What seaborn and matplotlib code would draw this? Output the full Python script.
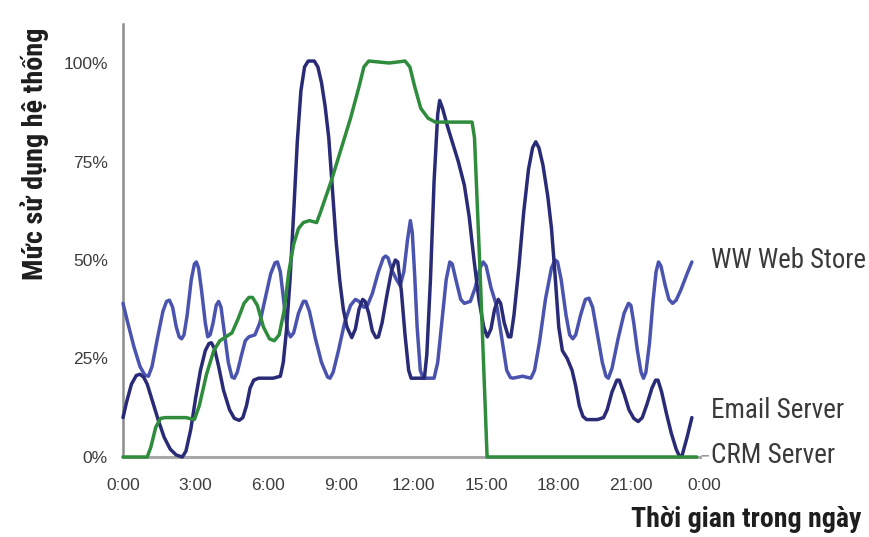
import pandas as pd
import matplotlib
matplotlib.use('Agg')
import matplotlib.pyplot as plt
import matplotlib.font_manager as fm
import seaborn as sns

# --- Dữ liệu (giờ trong ngày, % sử dụng) ---
web_gio = [0.0, 0.2, 0.45, 0.7, 0.9, 1.05, 1.2, 1.45, 1.65, 1.8, 1.92, 2.05, 2.2, 2.32, 2.42,
           2.52, 2.65, 2.82, 2.95, 3.03, 3.12, 3.25, 3.4, 3.5, 3.6, 3.72, 3.85, 3.95, 4.05,
           4.2, 4.35, 4.5, 4.6, 4.72, 4.9, 5.05, 5.2, 5.45, 5.65, 5.9, 6.1, 6.28, 6.38, 6.5,
           6.65, 6.8, 6.92, 7.05, 7.25, 7.45, 7.55, 7.7, 7.95, 8.2, 8.45, 8.55, 8.68, 8.9,
           9.15, 9.4, 9.6, 9.75, 9.95, 10.1, 10.3, 10.55, 10.75, 10.85, 10.95, 11.1, 11.3,
           11.45, 11.6, 11.75, 11.87, 11.95, 12.05, 12.15, 12.28, 12.4, 12.85, 13.0, 13.15,
           13.35, 13.5, 13.6, 13.75, 13.95, 14.1, 14.35, 14.55, 14.75, 14.88, 15.0, 15.2,
           15.45, 15.65, 15.85, 16.0, 16.1, 16.5, 16.85, 17.0, 17.2, 17.45, 17.7, 17.85,
           17.95, 18.1, 18.3, 18.45, 18.58, 18.7, 18.9, 19.1, 19.25, 19.4, 19.6, 19.8, 19.95,
           20.05, 20.2, 20.45, 20.7, 20.88, 20.98, 21.1, 21.25, 21.4, 21.5, 21.6, 21.75, 21.9,
           22.02, 22.12, 22.22, 22.4, 22.55, 22.7, 22.85, 23.05, 23.3, 23.5]
web_pct = [39, 34, 28, 23, 20.8, 20.5, 23, 31, 37, 39.5, 39.8, 38, 33, 30.5, 30,
           31, 36, 45, 49, 49.5, 48, 42, 34, 30.5, 31, 34, 38.5, 39.5, 38,
           31, 24, 20.3, 20, 21.5, 26, 29.5, 30.5, 31, 34, 41, 46.5, 49.3, 49.5, 47,
           39, 32, 30.5, 31.5, 36.5, 39.5, 39.5, 37, 30, 24, 20.3, 20, 21.5, 27,
           34, 38.5, 40, 39.5, 38, 38.5, 41.5, 47, 50.5, 51, 50.5, 47.5, 45,
           43.5, 47, 55, 60, 57, 46, 33, 22, 20, 20, 24, 33,
           45, 49.5, 49, 45, 40, 39, 39.5, 43, 48, 49.5, 48.5, 43,
           38, 30, 22, 20.2, 20, 20.5, 20, 22, 29, 40, 48, 50,
           49.5, 45, 36, 31, 30, 31, 36, 40, 40.3, 38, 31, 24, 20.5,
           20, 22.5, 30, 36.5, 39, 38.5, 34, 27, 21.5, 20, 21.5, 29, 40,
           47, 49.5, 48.5, 43.5, 40, 39, 39.8, 42.5, 46.5, 49.5]

email_gio = [0.0, 0.15, 0.35, 0.55, 0.7, 0.85, 1.0, 1.2, 1.45, 1.7, 1.95, 2.2, 2.45, 2.6, 2.8,
             3.0, 3.2, 3.4, 3.55, 3.65, 3.78, 3.95, 4.15, 4.4, 4.6, 4.8, 4.95, 5.1, 5.25, 5.4,
             5.6, 6.2, 6.5, 6.62, 6.75, 6.9, 7.05, 7.2, 7.35, 7.5, 7.65, 7.9, 8.05, 8.2, 8.35,
             8.5, 8.65, 8.8, 8.95, 9.1, 9.25, 9.45, 9.6, 9.75, 9.9, 10.0, 10.15, 10.3, 10.45,
             10.55, 10.7, 10.9, 11.1, 11.25, 11.35, 11.5, 11.65, 11.8, 11.9, 12.45, 12.55,
             12.7, 12.85, 13.0, 13.08, 13.2, 13.4, 13.6, 13.85, 14.1, 14.3, 14.5, 14.7, 14.9,
             15.05, 15.2, 15.35, 15.5, 15.6, 15.75, 15.92, 16.02, 16.15, 16.35, 16.55, 16.75,
             16.92, 17.05, 17.18, 17.35, 17.55, 17.7, 17.85, 18.0, 18.15, 18.35, 18.55, 18.7,
             18.85, 19.0, 19.15, 19.6, 19.85, 20.0, 20.2, 20.4, 20.5, 20.7, 20.9, 21.1, 21.28,
             21.45, 21.65, 21.85, 22.0, 22.1, 22.25, 22.45, 22.65, 22.85, 23.0, 23.1, 23.3, 23.5]
email_pct = [10, 14, 18.5, 20.7, 21, 20.3, 18.5, 14.5, 9.5, 5, 2, 0.5, 0, 1.5, 7,
             15, 22, 27, 28.8, 29, 27.5, 23, 17, 12, 9.8, 9.3, 10, 13, 17.5, 19.5,
             20, 20, 20.5, 24, 32, 45, 62, 80, 93, 99, 100.5, 100.5, 99, 95, 89,
             81, 68, 55, 45, 37.5, 33, 30.3, 32.5, 37.5, 40, 39.5, 36.5, 32, 30.3,
             30.5, 34, 41, 47.5, 50, 49.5, 42, 31, 22, 20, 20, 26,
             45, 70, 87, 90.5, 88.5, 84, 80, 75, 69, 61, 50, 40, 33,
             30.5, 32.5, 37.5, 40, 39, 34, 30.5, 30.5, 36, 48, 62, 73,
             78.5, 80, 78.5, 74, 66, 58, 46, 33, 27, 25, 22, 18,
             13, 10.3, 9.5, 9.5, 10, 12, 16.5, 19.5, 19.5, 16, 12, 9.8, 9,
             10, 13.5, 17.5, 19.5, 19.5, 16.5, 11, 6, 2, 0, 0.5, 5, 10]

crm_gio = [0.0, 1.0, 1.15, 1.35, 1.55, 1.75, 2.6, 2.95, 3.15, 3.45, 3.75, 4.0, 4.25, 4.5, 4.75,
           5.0, 5.2, 5.35, 5.55, 5.8, 6.05, 6.25, 6.45, 6.65, 6.85, 7.05, 7.25, 7.45, 7.7, 8.0,
           8.15, 8.6, 9.0, 9.4, 9.75, 9.95, 10.15, 11.0, 11.65, 11.85, 12.05, 12.3, 12.6,
           12.9, 13.5, 14.25, 14.42, 14.52, 14.75, 15.04, 15.5, 23.7]
crm_pct = [0, 0, 2.5, 7.5, 9.8, 10, 10, 9.5, 13, 21, 27, 29.5, 30.5, 31.5, 35,
           39, 40.5, 40.5, 38.5, 33, 30, 29.5, 31, 37, 47, 54, 58, 59.5, 60, 59.5,
           62, 70, 78, 86, 94, 99, 100.5, 100, 100.5, 99, 94, 88.5, 86,
           85, 85, 85, 85, 81, 47, 0, 0, 0]

moc_gio = [0, 3, 6, 9, 12, 15, 18, 21, 24]
nhan_gio = ['0:00', '3:00', '6:00', '9:00', '12:00', '15:00', '18:00', '21:00', '0:00']
moc_pct = [0, 25, 50, 75, 100]
nhan_pct = ['0%', '25%', '50%', '75%', '100%']

ten_chuoi = ['WW Web Store', 'Email Server', 'CRM Server']
mau = {'WW Web Store': '#4a54ae', 'Email Server': '#2a2b76', 'CRM Server': '#2f8c3c'}

df_web = pd.DataFrame({'Gio': web_gio, 'Pct': web_pct})
df_email = pd.DataFrame({'Gio': email_gio, 'Pct': email_pct})
df_crm = pd.DataFrame({'Gio': crm_gio, 'Pct': crm_pct})

sns.set_style('white')
plt.rcParams['font.family'] = ['Liberation Sans', 'DejaVu Sans']

# Chọn font hẹp nếu có (chữ trong ảnh gốc là kiểu condensed)
co_san = {f.name for f in fm.fontManager.ttflist}
font_hep = 'Liberation Sans'
for ten in ['Liberation Sans Narrow', 'Roboto Condensed', 'Noto Sans Condensed',
            'Open Sans Condensed', 'DejaVu Sans Condensed']:
    if ten in co_san:
        font_hep = ten
        break
nhan_font = [font_hep, 'Liberation Sans', 'DejaVu Sans']

fig = plt.figure(figsize=(8.7, 5.37), dpi=100)
ax = fig.add_axes([123 / 870, 80 / 537, 581 / 870, 433.4 / 537])

kw = dict(lw=2.5, solid_joinstyle='round', solid_capstyle='round', clip_on=False,
          estimator=None, sort=False, legend=False)
sns.lineplot(data=df_web, x='Gio', y='Pct', color=mau['WW Web Store'], ax=ax, zorder=3, **kw)
sns.lineplot(data=df_email, x='Gio', y='Pct', color=mau['Email Server'], ax=ax, zorder=4, **kw)
sns.lineplot(data=df_crm, x='Gio', y='Pct', color=mau['CRM Server'], ax=ax, zorder=5, **kw)

ax.set_xlim(0, 24)
ax.set_ylim(0, 110)
ax.set_xticks(moc_gio)
ax.set_xticklabels(nhan_gio)
ax.set_yticks(moc_pct)
ax.set_yticklabels(nhan_pct)
ax.set_xlabel('')
ax.set_ylabel('')

for s in ['top', 'right']:
    ax.spines[s].set_visible(False)
ax.spines['left'].set_color('#8c8c8c')
ax.spines['left'].set_linewidth(1.8)
ax.spines['bottom'].set_color('#a8a8a8')
ax.spines['bottom'].set_linewidth(2.2)
ax.spines['bottom'].set_bounds(0, 23.85)

ax.tick_params(axis='both', direction='out', length=3, width=1, color='#8c8c8c',
               labelsize=12.5, labelcolor='#3c3c3c')
ax.tick_params(axis='x', pad=12)
ax.tick_params(axis='y', pad=8)

# Nhãn cho từng chuỗi ở bên phải
vi_tri_nhan = {'WW Web Store': 50, 'Email Server': 11.8, 'CRM Server': 0.5}
rong_nhan = {'WW Web Store': 155, 'Email Server': 133, 'CRM Server': 124}
cac_nhan = []
for ten in ten_chuoi:
    t = ax.text(24.3, vi_tri_nhan[ten], ten, fontsize=18, color='#3a3a3a',
                family=nhan_font, ha='left', va='center', clip_on=False)
    cac_nhan.append((t, rong_nhan[ten], 'w'))
ax.annotate('', xy=(23.8, 0.3), xytext=(24.3, 0.3),
            arrowprops=dict(arrowstyle='-', color='#888888', lw=1))

# Tiêu đề trục
ty = fig.text(35 / 870, 1 - 154 / 537, 'Mức sử dụng hệ thống', rotation=90, fontsize=20,
              fontweight='bold', family=nhan_font, color='#1e1e1e', ha='center', va='center')
tx = fig.text(862 / 870, 10 / 537, 'Thời gian trong ngày', fontsize=20, fontweight='bold',
              family=nhan_font, color='#1e1e1e', ha='right', va='baseline')
cac_nhan.append((ty, 252, 'h'))
cac_nhan.append((tx, 230, 'w'))

# chỉnh cỡ chữ cho khớp độ dài chữ trong ảnh gốc
fig.canvas.draw()
r = fig.canvas.get_renderer()
for t, dai, chieu in cac_nhan:
    bb = t.get_window_extent(r)
    hien = bb.width if chieu == 'w' else bb.height
    t.set_fontsize(min(t.get_fontsize() * dai / hien, 21))

plt.savefig('out.png', dpi=100)
plt.close()
